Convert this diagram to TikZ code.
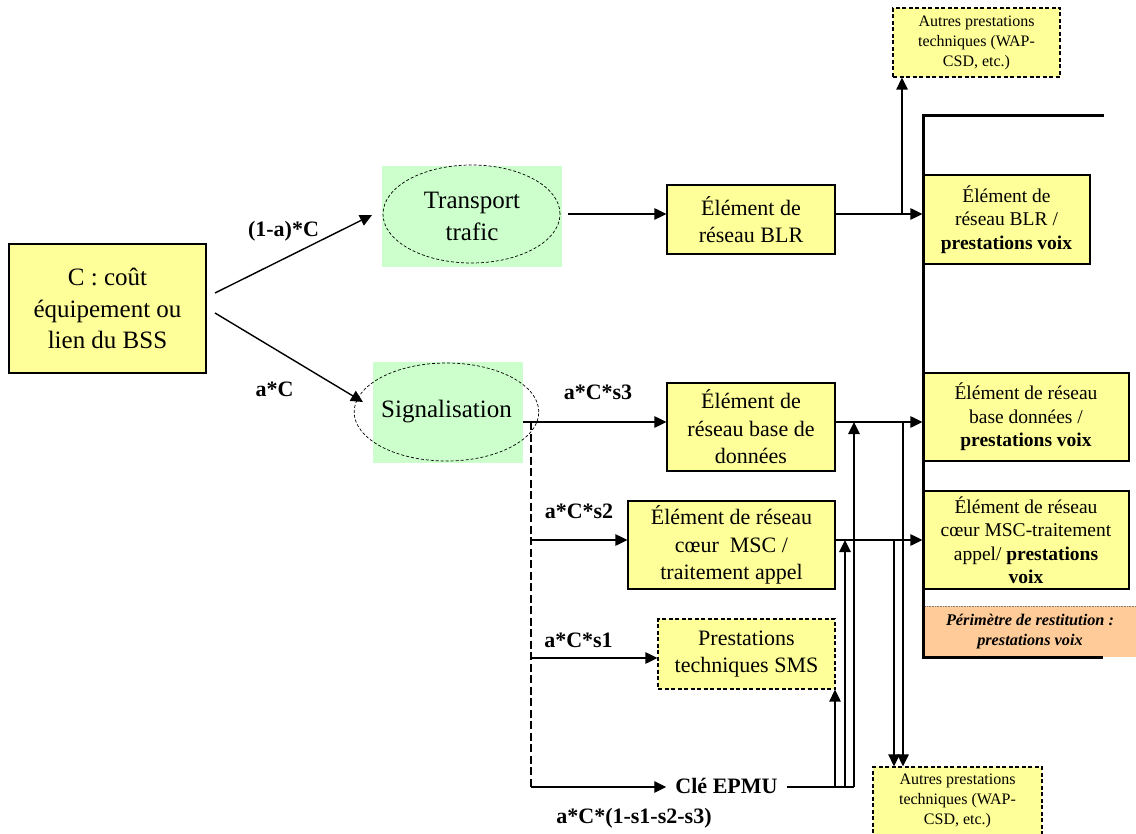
\documentclass[tikz,border=0pt]{standalone}
\usepackage{fontspec}
\setmainfont{Liberation Serif}
\usetikzlibrary{arrows.meta,shapes.geometric}
\definecolor{yel}{HTML}{FFFF99}
\definecolor{grn}{HTML}{CCFFCC}
\definecolor{org}{HTML}{FFCC99}
\begin{document}
\begin{tikzpicture}[x=1pt,y=-1pt,
 box/.style={draw,fill=yel,line width=1.3pt,inner sep=0pt,align=center},
 dbox/.style={box,dash pattern=on 4pt off 2.5pt},
 fmain/.style={font=\fontsize{22}{27.5}\selectfont},
 fbig/.style={font=\fontsize{25}{31.5}\selectfont},
 fright/.style={font=\fontsize{19.5}{23.5}\selectfont},
 fsmall/.style={font=\fontsize{16}{20}\selectfont},
 lab/.style={font=\fontsize{22}{26}\selectfont\bfseries,inner sep=0pt,anchor=base},
 greenbg/.style={fill=grn,inner sep=0pt,align=center,fbig},
 oval/.style={ellipse,draw,dash pattern=on 3pt off 2pt,line width=0.7pt,inner sep=0pt,fbig,align=center},
 arr/.style={line width=1.4pt,-{Triangle[length=12pt,width=11.5pt]}},
 ln/.style={line width=1.4pt},
]
\useasboundingbox (0,0) rectangle (1136,834);

% main nodes
\node[box,fbig,minimum width=197pt,minimum height=129pt] (C) at (107.5,308.5) {C : coût\\équipement ou\\lien du BSS};
\node[greenbg,minimum width=180pt,minimum height=101pt] (Tg) at (472,216.5) {Transport\\trafic};
\node[oval,minimum width=177pt,minimum height=98pt] (Te) at (471.5,214) {};
\node[greenbg,minimum width=150pt,minimum height=101pt] (Sg) at (448,412.5) {};
\node[oval,minimum width=147pt,minimum height=98pt] (Se) at (446.5,412) {Signalisation};

\node[box,fmain,minimum width=168pt,minimum height=69pt] (BLR) at (751,219.5) {Élément de\\réseau BLR};
\node[box,fmain,minimum width=168pt,minimum height=88pt] (BD) at (751,427) {Élément de\\réseau base de\\données};
\node[box,fmain,minimum width=207pt,minimum height=88pt] (MSC) at (731.5,545) {Élément de réseau\\cœur~ MSC /\\traitement appel};
\node[dbox,fmain,minimum width=177pt,minimum height=70pt] (SMS) at (746.5,654) {Prestations\\techniques SMS};

\node[dbox,fsmall,minimum width=167pt,minimum height=69pt] (AutTop) at (976.5,42.5) {Autres prestations\\techniques (WAP-\\CSD, etc.)};
\node[dbox,fsmall,minimum width=169pt,minimum height=68pt] (AutBot) at (957.5,801) {Autres prestations\\techniques (WAP-\\CSD, etc.)};

\node[box,fright,minimum width=167pt,minimum height=89pt] (R1) at (1006.5,219.5) {Élément de\\réseau BLR /\\\textbf{prestations voix}};
\node[box,fright,minimum width=206pt,minimum height=88pt] (R2) at (1026,417) {Élément de réseau\\base données /\\\textbf{prestations voix}};
\node[box,fright,minimum width=206pt,minimum height=98pt] (R3) at (1026,540) {Élément de réseau\\cœur MSC-traitement\\appel/ \textbf{prestations}\\\textbf{voix}};
\node[fill=org,minimum width=212pt,minimum height=51pt,inner sep=0pt,align=center,font=\fontsize{16.3}{19.5}\selectfont\bfseries\itshape] (P) at (1030,631.5) {Périmètre de restitution :\\prestations voix};
\draw[gray,densely dotted,line width=0.6pt] (P.north west) -- (P.north east);

% perimeter bracket
\draw[line width=3pt] (1104,116) -- (923,116) -- (923,657) -- (1103,657);

% labels
\node[lab] (l1) at (283.5,237) {(1-a)*C};
\node[lab] (l2) at (274.5,397) {a*C};
\node[lab] (l3) at (598,400) {a*C*s3};
\node[lab] (l4) at (579,518) {a*C*s2};
\node[lab] (l5) at (578.5,647) {a*C*s1};
\node[lab] (l6) at (634,823) {a*C*(1-s1-s2-s3)};
\node[font=\fontsize{22}{26}\selectfont\bfseries,inner xsep=9pt,inner ysep=0pt,anchor=base] (EPMU) at (726.5,793) {Clé EPMU};

% level coordinates
\coordinate (y1) at (0,214);
\coordinate (y3) at (0,422);
\coordinate (y2) at (0,540);
\coordinate (y0) at (0,658);
\coordinate (yE) at (0,787);

% connectors
\coordinate (a1s) at (215,293); \coordinate (a1e) at (372,215);
\coordinate (a2s) at (215,313); \coordinate (a2e) at (363,402);
\draw[arr] (a1s) -- (a1e);
\draw[arr] (a2s) -- (a2e);

\draw[arr] ([xshift=6pt]Tg.east |- y1) -- (BLR.west |- y1);
\draw[arr] (BLR.east |- y1) -- (R1.west |- y1);
\coordinate (j1) at (902,214);
\draw[arr] (j1) -- (j1 |- AutTop.south);

\draw[arr] (Sg.east |- y3) -- (BD.west |- y3);
\coordinate (d0) at (531,422);
\draw[ln,dash pattern=on 8pt off 3.5pt] (d0) -- (d0 |- yE);
\draw[arr] (d0 |- y2) -- (MSC.west |- y2);
\draw[arr] (d0 |- y0) -- (SMS.west |- y0);
\draw[arr] (d0 |- yE) -- (EPMU.west |- yE);

\coordinate (e1) at (835,787);
\coordinate (e2) at (845,787);
\coordinate (e3) at (854,787);
\draw[ln] (EPMU.east |- yE) -- (e3);
\draw[arr] (e1) -- (e1 |- SMS.south);
\draw[arr] (e2) -- (e2 |- y2);
\draw[arr] (e3) -- (e3 |- y3);

\draw[arr] (BD.east |- y3) -- (R2.west |- y3);
\draw[arr] (MSC.east |- y2) -- (R3.west |- y2);
\coordinate (v1) at (894,540);
\coordinate (v2) at (903,422);
\draw[arr] (v1) -- (v1 |- AutBot.north);
\draw[arr] (v2) -- (v2 |- AutBot.north);
\end{tikzpicture}
\end{document}
